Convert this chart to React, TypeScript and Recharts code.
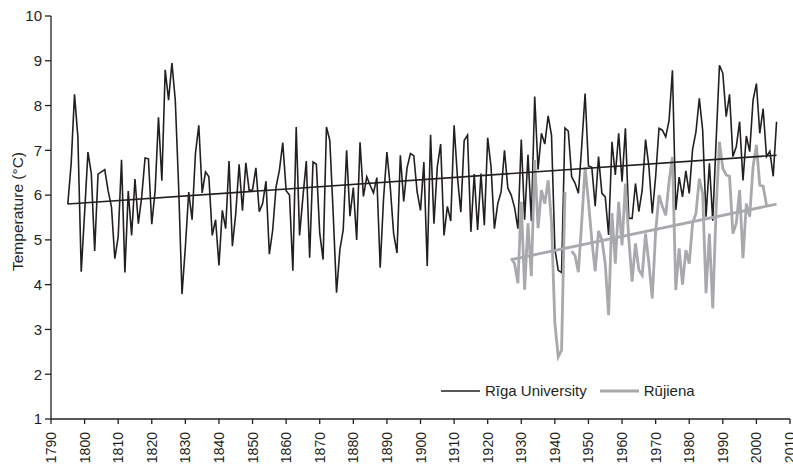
import React from 'react';
import { LineChart, Line, XAxis, YAxis, Legend } from 'recharts';

const FONT = '"Liberation Sans", Arial, sans-serif';
const TEXT = '#231f20';
const RIGA_COLOR = '#231f20';
const RUJ_COLOR = '#a7a9ac';

const X_TICKS = [1790, 1800, 1810, 1820, 1830, 1840, 1850, 1860, 1870, 1880, 1890, 1900, 1910, 1920, 1930, 1940, 1950, 1960, 1970, 1980, 1990, 2000, 2010];
const Y_TICKS = [1, 2, 3, 4, 5, 6, 7, 8, 9, 10];

const RIGA_START = 1795;
const rigaTemps = [
  5.80, 6.70, 8.25, 7.30, 4.29,
  5.60, 6.96, 6.48, 4.75, 6.47, 6.52, 6.57, 6.10, 5.74, 4.58,
  5.07, 6.79, 4.27, 6.09, 5.10, 6.36, 5.36, 5.96, 6.83, 6.81,
  5.35, 6.10, 7.74, 6.32, 8.80, 8.12, 8.95, 8.12, 6.18, 3.79,
  4.84, 6.07, 5.45, 6.93, 7.56, 6.05, 6.52, 6.41, 5.10, 5.45,
  4.43, 5.66, 5.25, 6.76, 4.86, 5.59, 6.69, 5.65, 6.72, 6.10,
  6.12, 6.61, 5.63, 5.81, 6.31, 4.68, 5.22, 6.18, 6.56, 7.17,
  6.10, 6.00, 4.31, 7.52, 5.10, 5.96, 6.76, 4.60, 6.74, 6.69,
  5.15, 4.56, 7.52, 7.22, 5.60, 3.82, 4.78, 5.23, 7.00, 5.53,
  6.17, 5.00, 7.18, 5.97, 6.41, 6.22, 6.05, 6.39, 4.38, 5.92,
  6.96, 6.18, 5.14, 4.71, 6.89, 5.86, 6.61, 6.93, 6.88, 6.07,
  5.66, 6.74, 4.42, 7.35, 5.36, 6.63, 7.14, 5.10, 5.75, 5.42,
  7.56, 6.40, 5.62, 7.22, 7.34, 5.18, 6.47, 5.22, 6.48, 5.33,
  7.28, 6.63, 5.25, 5.81, 6.07, 7.00, 6.16, 6.00, 5.72, 5.25,
  7.24, 5.45, 6.90, 5.42, 8.20, 6.57, 7.38, 7.14, 7.77, 7.34,
  4.80, 4.32, 4.27, 7.50, 7.43, 6.41, 6.27, 6.04, 7.10, 8.27,
  6.65, 6.62, 5.75, 6.86, 6.04, 5.96, 5.11, 7.19, 6.45, 7.38,
  6.30, 7.49, 5.48, 5.48, 6.26, 5.63, 6.11, 7.24, 6.63, 5.59,
  6.41, 7.49, 7.45, 7.30, 7.67, 8.79, 5.67, 6.40, 5.96, 6.54,
  6.04, 7.02, 7.41, 8.16, 7.45, 5.52, 6.71, 5.43, 7.20, 8.90,
  8.72, 7.75, 8.25, 6.86, 7.08, 7.64, 6.33, 7.32, 6.97, 8.12,
  8.49, 7.38, 7.93, 6.86, 6.98, 6.42, 7.64,
];

const RUJ_START = 1927;
const rujienaTemps: (number | null)[] = [
  4.59, 4.47, 4.03,
  5.85, 3.89, 5.37, 4.19, 6.78, 5.26, 6.11, 5.81, 6.33, 5.40,
  3.14, 2.39, 2.54, 6.07, null, 4.75, 4.65, 4.28, 5.40, 6.62,
  5.85, 5.00, 4.30, 5.20, 5.00, 4.47, 3.32, 5.60, 4.47, 5.85,
  4.88, 6.26, 5.03, 4.07, 4.92, 4.33, 4.21, 5.14, 4.47, 3.69,
  5.18, 6.00, 5.75, 5.55, 6.30, 6.85, 3.88, 4.81, 4.00, 4.77,
  4.47, 5.37, 5.59, 6.37, 6.04, 3.81, 5.14, 3.47, 5.67, 7.19,
  6.60, 6.45, 6.42, 5.14, 5.37, 6.11, 4.59, 5.81, 5.52, 6.63,
  7.12, 6.22, 6.20, 5.78,
];

// trend line end points
const rigaTrend = [
  { year: 1795, value: 5.80 },
  { year: 2006, value: 6.89 },
];
const rujienaTrend = [
  { year: 1927, value: 4.56 },
  { year: 2006, value: 5.80 },
];

const table = rigaTemps.map((t, i) => {
  const year = RIGA_START + i;
  const ri = year - RUJ_START;
  const rt = rigaTrend.find((p) => p.year === year);
  const jt = rujienaTrend.find((p) => p.year === year);
  return {
    year,
    riga: t,
    rujiena: ri >= 0 && ri < rujienaTemps.length ? rujienaTemps[ri] : null,
    rigaTrend: rt ? rt.value : null,
    rujienaTrend: jt ? jt.value : null,
  };
});

const XTick = (props: any) => {
  const { x, y, payload } = props;
  return (
    <text
      x={x}
      y={y}
      transform={`rotate(-90 ${x} ${y})`}
      textAnchor="end"
      dy="0.36em"
      fontSize={14}
      fontFamily={FONT}
      fill={TEXT}
    >
      {payload.value}
    </text>
  );
};

const LegendContent = () => (
  <div style={{ display: 'flex', alignItems: 'center', fontFamily: FONT, fontSize: 15, color: TEXT, whiteSpace: 'nowrap' }}>
    <svg width={39} height={4} style={{ display: 'block' }}>
      <line x1={0} y1={2} x2={39} y2={2} stroke={RIGA_COLOR} strokeWidth={1.6} />
    </svg>
    <span style={{ marginLeft: 5 }}>Rīga University</span>
    <svg width={39} height={4} style={{ display: 'block', marginLeft: 13 }}>
      <line x1={0} y1={2} x2={39} y2={2} stroke={RUJ_COLOR} strokeWidth={2.8} />
    </svg>
    <span style={{ marginLeft: 5 }}>Rūjiena</span>
  </div>
);

export default function App() {
  return (
    <div style={{ position: 'absolute', left: 0, top: 0, width: 793, height: 469, background: '#fff' }}>
      <LineChart width={793} height={469} data={table} margin={{ top: 16, right: 3, bottom: 0, left: 0 }}>
        <XAxis
          dataKey="year"
          type="number"
          domain={[1790, 2010]}
          ticks={X_TICKS}
          interval={0}
          height={50}
          tickSize={5}
          tickMargin={8}
          tick={<XTick />}
          stroke={TEXT}
          strokeWidth={1.3}
          allowDataOverflow
        />
        <YAxis
          type="number"
          domain={[1, 10]}
          ticks={Y_TICKS}
          interval={0}
          width={51}
          tickSize={6}
          tickMargin={3}
          stroke={TEXT}
          strokeWidth={1.3}
          tick={{ fontSize: 15, fontFamily: FONT, fill: TEXT }}
          label={{
            value: 'Temperature (°C)',
            angle: -90,
            position: 'insideLeft',
            dx: 12,
            dy: -6,
            style: { fontSize: 15.5, fontFamily: FONT, fill: TEXT, textAnchor: 'middle' },
          }}
        />
        <Legend
          verticalAlign="middle"
          align="center"
          layout="horizontal"
          content={<LegendContent />}
          wrapperStyle={{ left: 441, top: 382, width: 300, height: 20 }}
        />
        <Line dataKey="riga" stroke={RIGA_COLOR} strokeWidth={1.6} dot={false} isAnimationActive={false} legendType="none" />
        <Line dataKey="rujiena" stroke={RUJ_COLOR} strokeWidth={2.8} dot={false} isAnimationActive={false} connectNulls={false} legendType="none" />
        <Line dataKey="rigaTrend" stroke={RIGA_COLOR} strokeWidth={1.6} dot={false} isAnimationActive={false} connectNulls legendType="none" />
        <Line dataKey="rujienaTrend" stroke={RUJ_COLOR} strokeWidth={2.8} dot={false} isAnimationActive={false} connectNulls legendType="none" />
      </LineChart>
    </div>
  );
}
